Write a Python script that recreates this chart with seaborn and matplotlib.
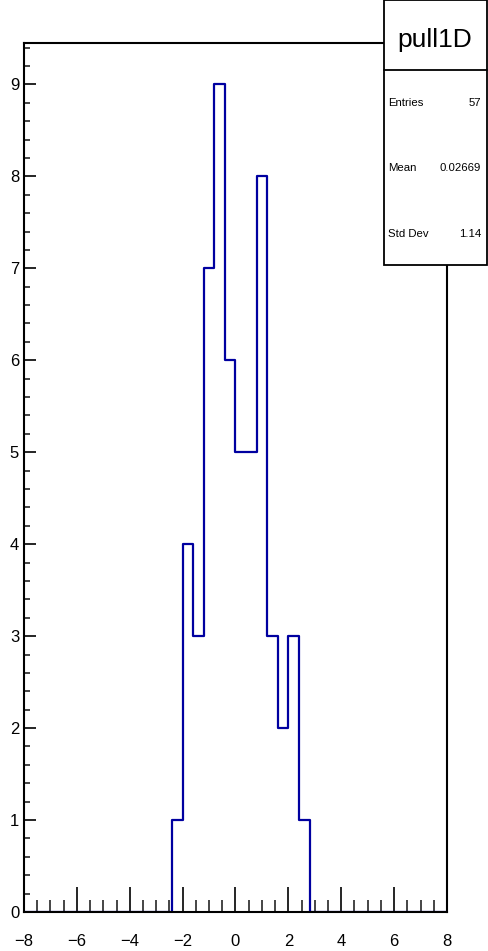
import numpy as np
import pandas as pd
import matplotlib
matplotlib.use("Agg")
import matplotlib.pyplot as plt
import seaborn as sns
from matplotlib.patches import Rectangle
from matplotlib.ticker import MultipleLocator

# ---- data ----
bin_low = [-2.4, -2.0, -1.6, -1.2, -0.8, -0.4, 0.0, 0.4, 0.8, 1.2, 1.6, 2.0, 2.4]
counts = [1, 4, 3, 7, 9, 6, 5, 5, 8, 3, 2, 3, 1]
bin_width = 0.4
x_range = (-8, 8)
title = "pull1D"
stat_names = ["Entries", "Mean", "Std Dev"]
stat_values = ["57", "0.02669", "1.14"]

df = pd.DataFrame({"x": np.array(bin_low) + bin_width / 2, "w": counts})

sns.set_style("white")
plt.rcParams['font.family'] = ['Liberation Sans', 'DejaVu Sans']

W, H = 488, 951
fig = plt.figure(figsize=(W / 100, H / 100), dpi=100)
ax = fig.add_axes([24 / W, (H - 912) / H, (447 - 24) / W, (912 - 43) / H])

sns.histplot(data=df, x="x", weights="w", binwidth=bin_width, binrange=x_range,
             element="step", fill=False, color="#0000a0", linewidth=1.6, ax=ax)

ax.set_xlim(*x_range)
ax.set_ylim(0, 9.45)
ax.set_xlabel("")
ax.set_ylabel("")

ax.xaxis.set_major_locator(MultipleLocator(2))
ax.xaxis.set_minor_locator(MultipleLocator(0.5))
ax.yaxis.set_major_locator(MultipleLocator(1))
ax.yaxis.set_minor_locator(MultipleLocator(0.2))
ax.tick_params(axis="x", which="major", direction="in", length=18, width=1.2,
               bottom=True, top=False, labelsize=12, pad=16, colors="black")
ax.tick_params(axis="x", which="minor", direction="in", length=8.6, width=1.2,
               bottom=True, top=False)
ax.tick_params(axis="y", which="major", direction="in", length=8.6, width=1.2,
               left=True, right=False, labelsize=12, pad=3.5, colors="black")
ax.tick_params(axis="y", which="minor", direction="in", length=4.3, width=1.2,
               left=True, right=False)
for s in ax.spines.values():
    s.set_visible(True)
    s.set_color("black")
    s.set_linewidth(1.5)
    s.set_zorder(5)

# stats box
x0, x1 = 384 / W, 487 / W
ytop, ymid, ybot = 1.0, 1 - 70 / H, 1 - 265 / H
fig.add_artist(Rectangle((x0, ybot), x1 - x0, ytop - ybot, transform=fig.transFigure,
                         facecolor="white", edgecolor="black", linewidth=1.3, zorder=10))
fig.add_artist(plt.Line2D([x0, x1], [ymid, ymid], transform=fig.transFigure,
                          color="black", linewidth=1.3, zorder=11))
fig.text(434.5 / W, 1 - 47 / H, title, ha="center", va="baseline", fontsize=19,
         color="black", zorder=12)
stat_y = [103, 168, 234]
for name, val, yy in zip(stat_names, stat_values, stat_y):
    fig.text(388 / W, 1 - yy / H, name, ha="left", va="center", fontsize=8.2,
             color="black", zorder=12)
    fig.text(481 / W, 1 - yy / H, val, ha="right", va="center", fontsize=8.2,
             color="black", zorder=12)

fig.savefig("out.png", dpi=100)
